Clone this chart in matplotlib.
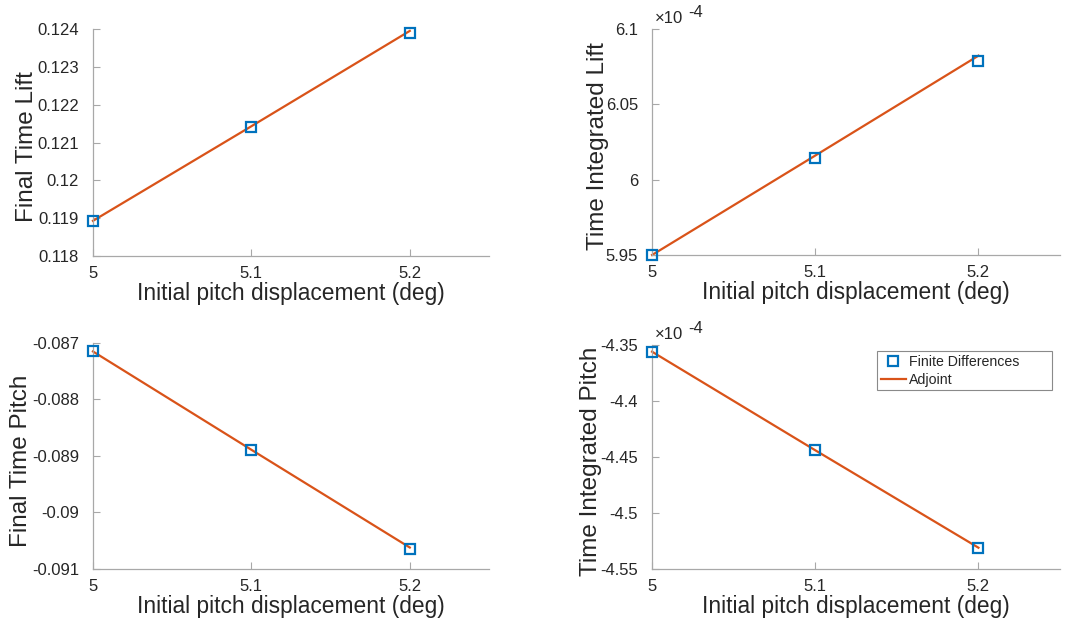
import numpy as np
import matplotlib
matplotlib.use("Agg")
import matplotlib.pyplot as plt
from matplotlib.ticker import FuncFormatter

plt.rcParams['font.family'] = ['Liberation Sans', 'DejaVu Sans']

# pitch displacement sweep (deg)
pitch0 = [5.0, 5.1, 5.2]

# final time lift
lift_fd = [0.11893, 0.12142, 0.12390]
lift_adj = [0.11893, 0.12143, 0.12395]

# time integrated lift (x 1e-4)
ilift_fd = [5.950, 6.0146, 6.0788]
ilift_adj = [5.950, 6.0160, 6.0823]

# final time pitch
pitch_fd = [-0.08715, -0.08889, -0.09064]
pitch_adj = [-0.08715, -0.08889, -0.09062]

# time integrated pitch (x 1e-4)
ipitch_fd = [-4.356, -4.4436, -4.5316]
ipitch_adj = [-4.356, -4.4440, -4.5310]

BLUE = '#0072BD'
ORANGE = '#D95319'
AXC = '#a8a8a8'
TXT = '#262626'

fig = plt.figure(figsize=(10.9, 6.2), dpi=100)

panels = [
    # rect, fd, adj, ylim, yticks, ylabel, exponent, ylabel x (axes coords)
    ([0.0853, 0.5871, 0.3633, 0.3661], lift_fd, lift_adj, (0.118, 0.124),
     [0.118, 0.119, 0.120, 0.121, 0.122, 0.123, 0.124], 'Final Time Lift', False, -0.166),
    ([0.5982, 0.5887, 0.3743, 0.3645], ilift_fd, ilift_adj, (5.95, 6.10),
     [5.95, 6.0, 6.05, 6.1], 'Time Integrated Lift', True, -0.133),
    ([0.0853, 0.0823, 0.3633, 0.3645], pitch_fd, pitch_adj, (-0.091, -0.087),
     [-0.091, -0.090, -0.089, -0.088, -0.087], 'Final Time Pitch', False, -0.181),
    ([0.5982, 0.0823, 0.3743, 0.3613], ipitch_fd, ipitch_adj, (-4.55, -4.35),
     [-4.55, -4.5, -4.45, -4.4, -4.35], 'Time Integrated Pitch', True, -0.150),
]

fmt = FuncFormatter(lambda v, pos: '%g' % round(v, 6))

for i, (rect, fd, adj, ylim, yticks, ylabel, expo, ylx) in enumerate(panels):
    ax = fig.add_axes(rect)
    ax.plot(pitch0, fd, linestyle='none', marker='s', markersize=7.5,
            markerfacecolor='none', markeredgecolor=BLUE, markeredgewidth=1.6,
            label='Finite Differences', clip_on=False, zorder=3)
    ax.plot(pitch0, adj, color=ORANGE, linewidth=1.6, label='Adjoint',
            clip_on=False, zorder=2)
    ax.set_xlim(5.0, 5.25)
    ax.set_ylim(*ylim)
    ax.set_xticks([5.0, 5.1, 5.2])
    ax.set_yticks(yticks)
    ax.xaxis.set_major_formatter(fmt)
    ax.yaxis.set_major_formatter(fmt)
    for side in ('top', 'right'):
        ax.spines[side].set_visible(False)
    for side in ('left', 'bottom'):
        ax.spines[side].set_color(AXC)
        ax.spines[side].set_linewidth(0.9)
    ax.tick_params(direction='in', length=5, width=0.8, color=AXC,
                   labelsize=12, labelcolor=TXT)
    ax.tick_params(axis='y', pad=10)
    ax.tick_params(axis='x', pad=7)
    ax.set_xlabel('Initial pitch displacement (deg)', fontsize=16.4, color=TXT,
                  labelpad=1)
    ax.set_ylabel(ylabel, fontsize=17.5, color=TXT)
    ax.yaxis.label.set_va('center')
    ax.yaxis.set_label_coords(ylx, 0.48)
    if expo:
        ax.text(0.008, 1.046, '\u00d710', transform=ax.transAxes, fontsize=12,
                color=TXT, ha='left', va='center')
        ax.text(0.088, 1.074, '-4', transform=ax.transAxes, fontsize=12,
                color=TXT, ha='left', va='center')
    if i == 3:
        leg = ax.legend(loc='upper left', bbox_to_anchor=(0.5515, 0.799, 0.4285, 0.174),
                        mode='expand', fontsize=10.2, fancybox=False, framealpha=1,
                        edgecolor='#8a8a8a', borderpad=0.25, labelspacing=0.3,
                        handlelength=1.8, handletextpad=0.2, borderaxespad=0)
        leg.get_frame().set_linewidth(0.8)
        for t in leg.get_texts():
            t.set_color(TXT)

fig.savefig('out.png', dpi=100)
